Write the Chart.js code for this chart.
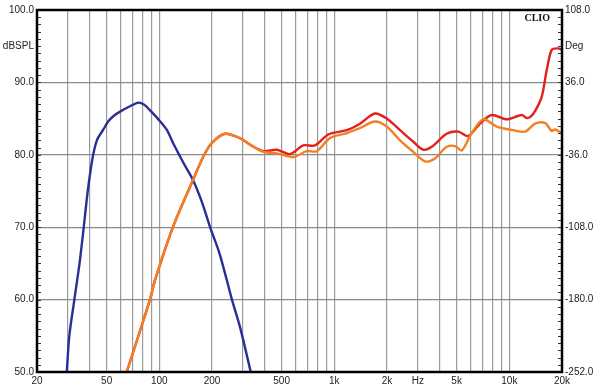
<!DOCTYPE html>
<html>
<head>
<meta charset="utf-8">
<script src="https://cdn.jsdelivr.net/npm/chart.js@4.4.1/dist/chart.umd.min.js"></script>
<style>
  html, body { margin: 0; padding: 0; background: #fff; }
</style>
</head>
<body>
<canvas id="grafica" width="600" height="391"></canvas>
<script>
// ==============================
// DATOS
// ==============================
const freqAzul = [29.6, 30.6, 32.7, 35, 37, 39, 41.5, 44, 47.9, 51, 55, 60, 68, 76, 82, 88, 98, 110, 120, 138, 156, 175, 195, 220, 243, 260, 290, 333];
const splAzul  = [50, 55, 60, 65, 70, 75, 79.5, 82.0, 83.5, 84.6, 85.4, 86.0, 86.7, 87.2, 86.9, 86.2, 85.0, 83.5, 81.6, 78.8, 76.5, 73.5, 70.0, 66.5, 62.7, 60, 56.1, 50];

const freqNaranja = [65.1, 88.4, 94.5, 120, 153, 178, 199, 237, 289, 330, 393, 469, 583, 695, 793, 944, 1177, 1402, 1708, 1992, 2374, 2827, 3297, 3758, 4384, 4894, 5346, 6096, 7096, 8472, 10534, 12293, 14020, 15998, 17470, 18260, 19900];
const splNaranja  = [50, 60, 62.7, 70.1, 76.1, 79.7, 81.6, 82.9, 82.3, 81.4, 80.4, 80.2, 79.7, 80.5, 80.5, 82.3, 83.0, 83.7, 84.6, 83.9, 82.0, 80.4, 79.1, 79.5, 81.1, 81.2, 80.6, 83.0, 84.9, 83.9, 83.4, 83.2, 84.3, 84.4, 83.3, 83.5, 83.0];

const freqRojo = [65.1, 88.4, 94.5, 120, 153, 178, 199, 237, 289, 330, 393, 469, 558, 665, 776, 924, 1177, 1402, 1708, 1992, 2374, 2827, 3224, 3600, 4384, 5110, 5830, 6800, 7930, 9660, 11770, 12500, 13130, 14000, 15310, 16360, 17470, 19000, 20000];
const splRojo  = [50, 60, 62.7, 70.1, 76.1, 79.7, 81.6, 82.9, 82.3, 81.4, 80.5, 80.7, 80.1, 81.3, 81.3, 82.8, 83.4, 84.3, 85.7, 85.0, 83.4, 81.8, 80.7, 81.1, 82.9, 83.2, 82.6, 84.3, 85.5, 84.9, 85.5, 85.1, 85.2, 86.0, 88.0, 91.7, 94.5, 94.7, 94.5];

// rejilla y etiquetas del eje X
const rejillaHz = [20, 30, 40, 50, 60, 70, 80, 90, 100, 200, 300, 400, 500, 600, 700, 800, 900,
  1000, 2000, 3000, 4000, 5000, 6000, 7000, 8000, 9000, 10000, 20000];
const etiquetasHz = { 20: "20", 50: "50", 100: "100", 200: "200", 500: "500", 1000: "1k",
  2000: "2k", 3000: "Hz", 5000: "5k", 10000: "10k", 20000: "20k" };

// ejes Y
const ticksSPL = [50, 60, 70, 80, 90, 95, 100];
const ticksDeg = [-252, -180, -108, -36, 36, 72, 108];

const puntos = (xs, ys) => xs.map((x, i) => ({ x: x, y: ys[i] }));

// ==============================
// PLUGIN: marco, ticks menores, CLIO
// ==============================
const marcoClio = {
  id: "marcoClio",
  afterDatasetsDraw(chart) {
    const { ctx, chartArea: a, scales } = chart;
    ctx.save();

    // ticks menores cada 1 dB hacia adentro
    ctx.strokeStyle = "#333";
    ctx.lineWidth = 1;
    for (let v = 51; v < 100; v++) {
      const y = Math.round(scales.y.getPixelForValue(v)) + 0.5;
      ctx.beginPath();
      ctx.moveTo(a.left, y); ctx.lineTo(a.left + 4, y);
      ctx.moveTo(a.right, y); ctx.lineTo(a.right - 4, y);
      ctx.stroke();
    }

    // marco negro
    ctx.strokeStyle = "#000";
    ctx.lineWidth = 2.5;
    ctx.strokeRect(a.left, a.top, a.right - a.left, a.bottom - a.top);

    // logo
    ctx.fillStyle = "#111";
    ctx.font = "bold 10px 'Liberation Serif', serif";
    ctx.textAlign = "right";
    ctx.textBaseline = "middle";
    ctx.fillText("CLIO", a.right - 12, a.top + 8);
    ctx.restore();
  }
};

// ==============================
// GRAFICA
// ==============================
const fuente = { family: "'Liberation Sans', Arial, sans-serif", size: 10 };

new Chart(document.getElementById("grafica"), {
  type: "line",
  data: {
    datasets: [
      { data: puntos(freqNaranja, splNaranja), borderColor: "#f28022", order: 0 },
      { data: puntos(freqAzul, splAzul), borderColor: "#2b2e95", order: 1 },
      { data: puntos(freqRojo, splRojo), borderColor: "#e3201c", order: 2 }
    ]
  },
  options: {
    responsive: false,
    animation: false,
    layout: { padding: { top: 10, bottom: 0, left: 0, right: 0 } },
    elements: {
      point: { radius: 0 },
      line: { borderWidth: 2.4, tension: 0.3 }
    },
    plugins: { legend: { display: false }, tooltip: { enabled: false } },
    scales: {
      x: {
        type: "logarithmic",
        min: 20,
        max: 20000,
        afterBuildTicks: s => { s.ticks = rejillaHz.map(v => ({ value: v })); },
        afterFit: s => { s.height = 19; },
        ticks: {
          autoSkip: false,
          maxRotation: 0,
          padding: 3,
          color: "#222",
          font: fuente,
          callback: v => etiquetasHz[v] || ""
        },
        grid: {
          drawTicks: false,
          color: c => (c.tick && (c.tick.value === 20 || c.tick.value === 20000)) ? "rgba(0,0,0,0)" : "#9a9a9a",
          lineWidth: 1.2
        },
        border: { display: false }
      },
      y: {
        position: "left",
        min: 50,
        max: 100,
        afterBuildTicks: s => { s.ticks = ticksSPL.map(v => ({ value: v })); },
        afterFit: s => { s.width = 37; },
        ticks: {
          padding: 3,
          color: "#222",
          font: fuente,
          callback: v => v === 95 ? "dBSPL" : v.toFixed(1)
        },
        grid: {
          drawTicks: false,
          color: c => (c.tick && [50, 95, 100].includes(c.tick.value)) ? "rgba(0,0,0,0)" : "#8a8a8a",
          lineWidth: 1.2
        },
        border: { display: false }
      },
      y2: {
        position: "right",
        min: -252,
        max: 108,
        afterBuildTicks: s => { s.ticks = ticksDeg.map(v => ({ value: v })); },
        afterFit: s => { s.width = 38; },
        ticks: {
          padding: 3,
          color: "#222",
          font: fuente,
          callback: v => v === 72 ? "Deg" : v.toFixed(1)
        },
        grid: { display: false, drawTicks: false },
        border: { display: false }
      }
    }
  },
  plugins: [marcoClio]
});
</script>
</body>
</html>
